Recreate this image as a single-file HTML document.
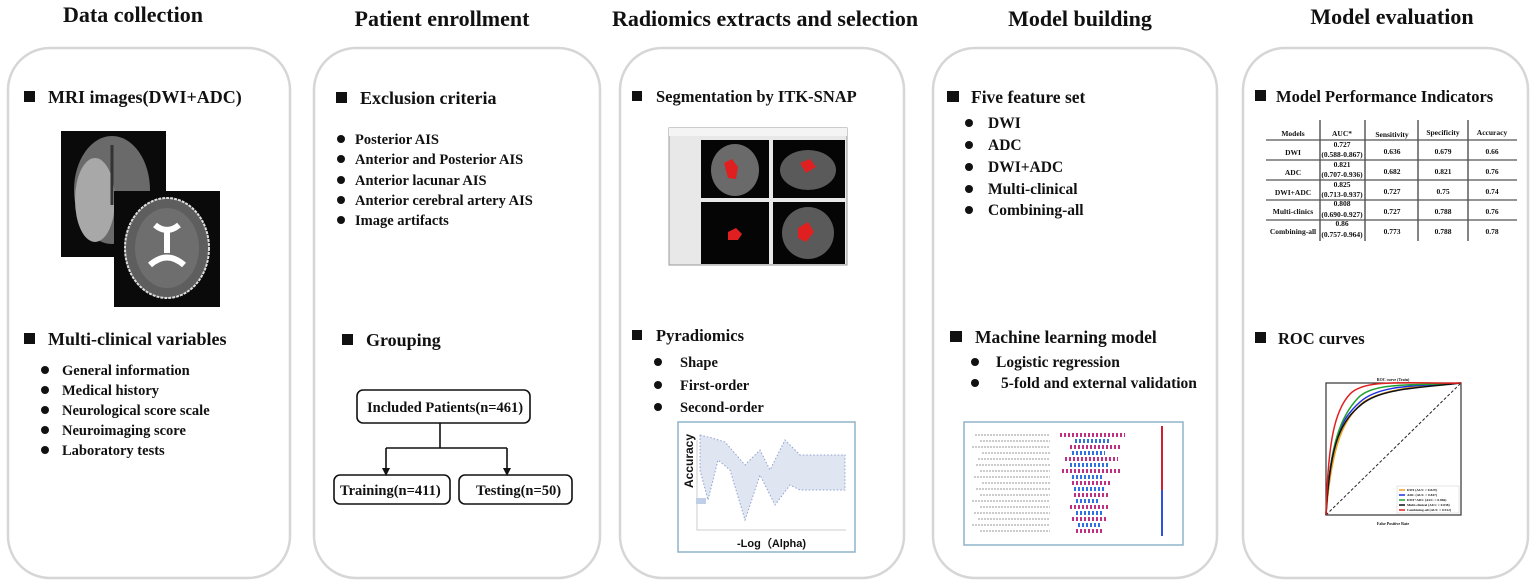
<!DOCTYPE html>
<html><head><meta charset="utf-8"><style>
html,body{margin:0;padding:0;background:#fff;}
svg{display:block;}
text{font-family:"Liberation Serif",serif;font-weight:bold;fill:#111;}
</style></head><body>
<svg width="1535" height="586" viewBox="0 0 1535 586" xmlns="http://www.w3.org/2000/svg">
<!-- titles -->
<g font-size="22" text-anchor="middle">
<text x="133" y="22">Data collection</text>
<text x="442" y="26">Patient enrollment</text>
<text x="765" y="26">Radiomics extracts and selection</text>
<text x="1080" y="26">Model building</text>
<text x="1392" y="24">Model evaluation</text>
</g>
<!-- panels -->
<g fill="#fff" stroke="#d6d6d6" stroke-width="2.5">
<rect x="8" y="48" width="282" height="530" rx="42"/>
<rect x="314" y="48" width="286" height="530" rx="42"/>
<rect x="620" y="48" width="284" height="530" rx="42"/>
<rect x="933" y="48" width="284" height="530" rx="42"/>
<rect x="1243" y="48" width="285" height="530" rx="42"/>
</g>
<!-- Panel 1 -->
<g font-size="18">
<rect x="24" y="91" width="11" height="11" fill="#111"/>
<text x="48" y="103">MRI images(DWI+ADC)</text>
<rect x="24" y="333" width="11" height="11" fill="#111"/>
<text x="48" y="345">Multi-clinical  variables</text>
</g>
<rect x="61" y="131" width="105" height="126" fill="#0a0a0a"/>
<ellipse cx="112" cy="190" rx="38" ry="54" fill="#6a6a6a"/>
<ellipse cx="95" cy="200" rx="20" ry="42" fill="#a8a8a8"/>
<path d="M112 145 v60" stroke="#333" stroke-width="3"/>
<rect x="114" y="191" width="106" height="116" fill="#0a0a0a"/>
<ellipse cx="167" cy="248" rx="42" ry="50" fill="#5e5e5e" stroke="#ddd" stroke-width="2" stroke-dasharray="3 1"/>
<ellipse cx="167" cy="248" rx="32" ry="40" fill="#6e6e6e"/>
<path d="M155 225 q12 10 24 0 M167 228 v25 M150 265 q17 -15 34 0" stroke="#fff" stroke-width="6" fill="none"/>
<g font-size="14.5">
<g fill="#111"><circle cx="45" cy="370" r="4"/><circle cx="45" cy="390" r="4"/><circle cx="45" cy="410" r="4"/><circle cx="45" cy="430" r="4"/><circle cx="45" cy="450" r="4"/></g>
<text x="62" y="375">General information</text>
<text x="62" y="395">Medical history</text>
<text x="62" y="415">Neurological score scale</text>
<text x="62" y="435">Neuroimaging score</text>
<text x="62" y="455">Laboratory tests</text>
</g>
<!-- Panel 2 -->
<g font-size="18">
<rect x="336" y="92" width="11" height="11" fill="#111"/>
<text x="360" y="104">Exclusion criteria</text>
<rect x="342" y="334" width="11" height="11" fill="#111"/>
<text x="366" y="346">Grouping</text>
</g>
<g font-size="14.5">
<g fill="#111"><circle cx="341" cy="139" r="4"/><circle cx="341" cy="159" r="4"/><circle cx="341" cy="180" r="4"/><circle cx="341" cy="200" r="4"/><circle cx="341" cy="220" r="4"/></g>
<text x="355" y="144">Posterior AIS</text>
<text x="355" y="164">Anterior and Posterior AIS</text>
<text x="355" y="185">Anterior lacunar AIS</text>
<text x="355" y="205">Anterior cerebral artery AIS</text>
<text x="355" y="225">Image artifacts</text>
</g>
<g fill="none" stroke="#111" stroke-width="1.6">
<rect x="357" y="390" width="173" height="33" rx="6"/>
<rect x="334" y="475" width="116" height="29" rx="6"/>
<rect x="459" y="475" width="113" height="29" rx="6"/>
<path d="M440 423 V448 M386 448 H507 M386 448 V470 M507 448 V470"/>
</g>
<path d="M382 468 L390 468 L386 476Z M503 468 L511 468 L507 476Z" fill="#111"/>
<g font-size="14.5">
<text x="367" y="412">Included Patients(n=461)</text>
<text x="340" y="495">Training(n=411)</text>
<text x="476" y="495">Testing(n=50)</text>
</g>
<!-- Panel 3 -->
<g font-size="16.5">
<rect x="632" y="91" width="10" height="10" fill="#111"/>
<text x="656" y="102">Segmentation by ITK-SNAP</text>
<rect x="632" y="330" width="10" height="10" fill="#111"/>
<text x="656" y="341">Pyradiomics</text>
</g>
<g font-size="14.5">
<g fill="#111"><circle cx="658" cy="362" r="4"/><circle cx="658" cy="385" r="4"/><circle cx="658" cy="407" r="4"/></g>
<text x="680" y="367">Shape</text>
<text x="680" y="390">First-order</text>
<text x="680" y="412">Second-order</text>
</g>
<rect x="669" y="128" width="178" height="137" fill="#e8e8e8" stroke="#999"/>
<rect x="669" y="128" width="178" height="8" fill="#f4f4f4"/>
<rect x="701" y="140" width="68" height="58" fill="#050505"/>
<rect x="773" y="140" width="72" height="58" fill="#050505"/>
<rect x="701" y="202" width="68" height="62" fill="#050505"/>
<rect x="773" y="202" width="72" height="62" fill="#050505"/>
<ellipse cx="735" cy="170" rx="24" ry="26" fill="#6a6a6a"/>
<ellipse cx="808" cy="170" rx="28" ry="20" fill="#5a5a5a"/>
<ellipse cx="808" cy="233" rx="26" ry="26" fill="#5a5a5a"/>
<path d="M724 163 l8 -4 l6 8 l-2 12 l-8 -1z" fill="#e02020"/>
<path d="M800 163 l10 -4 l6 8 l-10 6z" fill="#e02020"/>
<path d="M798 228 l10 -6 l6 10 l-8 10 l-8 -4z" fill="#e02020"/>
<path d="M728 232 l8 -4 l6 6 l-4 6 l-10 0z" fill="#e02020"/>
<rect x="678" y="422" width="177" height="130" fill="#fff" stroke="#8fb3c9" stroke-width="1.5"/>
<path d="M697 440 V530 H846" stroke="#ccc" fill="none"/>
<path d="M700 435 V470 L708 500 L718 460 L730 470 L745 520 L760 475 L775 505 L790 485 L800 490 H845 V455 H800 L785 440 L770 470 L760 450 L745 465 L725 442 L712 438Z" fill="#dfe6f2" stroke="#8fa0d0" stroke-dasharray="1.5 2"/>
<rect x="696" y="498" width="10" height="6" fill="#c0cfe8"/>
<text x="693" y="488" font-size="12" transform="rotate(-90 693 488)" style="font-family:'Liberation Sans',sans-serif">Accuracy</text>
<text x="737" y="547" font-size="11" style="font-family:'Liberation Sans',sans-serif">-Log（Alpha)</text>
<!-- Panel 4 -->
<g font-size="17.5">
<rect x="947" y="91" width="12" height="11" fill="#111"/>
<text x="971" y="103">Five feature set</text>
<rect x="950" y="331" width="12" height="11" fill="#111"/>
<text x="975" y="343">Machine learning  model</text>
</g>
<g font-size="15.5">
<g fill="#111"><circle cx="969" cy="123" r="4"/><circle cx="969" cy="145" r="4"/><circle cx="969" cy="167" r="4"/><circle cx="969" cy="189" r="4"/><circle cx="969" cy="210" r="4"/><circle cx="975" cy="362" r="4"/><circle cx="975" cy="383" r="4"/></g>
<text x="988" y="128">DWI</text>
<text x="988" y="150">ADC</text>
<text x="988" y="172">DWI+ADC</text>
<text x="988" y="194">Multi-clinical</text>
<text x="988" y="215">Combining-all</text>
<text x="996" y="367">Logistic regression</text>
<text x="1001" y="388">5-fold and external validation</text>
</g>
<rect x="964" y="422" width="219" height="123" fill="#fff" stroke="#8fb3c9" stroke-width="1.5"/>
<g stroke="#999" stroke-width="1">
<path d="M975 435 H1050 M980 441 H1050 M972 447 H1050 M982 453 H1050 M978 459 H1050 M976 465 H1050 M980 471 H1050 M974 477 H1050 M982 483 H1050 M976 489 H1050 M980 495 H1050 M972 501 H1050 M980 507 H1050 M974 513 H1050 M978 519 H1050 M972 525 H1050 M980 531 H1050" stroke-dasharray="2 1"/>
</g>
<g stroke-width="4" stroke-dasharray="2 2">
<path d="M1060 435 H1125 M1070 447 H1120 M1065 459 H1118 M1062 471 H1122 M1072 483 H1112 M1074 495 H1110 M1070 507 H1108 M1072 519 H1106 M1076 531 H1104" stroke="#c03080"/>
<path d="M1075 441 H1110 M1072 453 H1105 M1070 465 H1108 M1072 477 H1104 M1074 489 H1104 M1076 501 H1100 M1076 513 H1102 M1078 525 H1100" stroke="#3070e0"/>
</g>
<rect x="1161" y="426" width="2" height="110" fill="#d02030"/>
<rect x="1161" y="490" width="2" height="46" fill="#3050e0"/>
<!-- Panel 5 -->
<g font-size="16.5">
<rect x="1255" y="90" width="11" height="11" fill="#111"/>
<text x="1276" y="102">Model Performance Indicators</text>
<rect x="1255" y="332" width="11" height="11" fill="#111"/>
<text x="1278" y="344">ROC curves</text>
</g>
<g stroke="#333" stroke-width="1.2">
<path d="M1320 120 V241 M1365 120 V241 M1418 120 V241 M1468 120 V241"/>
<path d="M1266 140 H1517 M1266 160 H1517 M1266 180 H1517 M1266 200 H1517 M1266 220 H1517" stroke="#555"/>
</g>
<g font-size="7.5" text-anchor="middle">
<text x="1293" y="136">Models</text><text x="1342" y="136">AUC*</text><text x="1392" y="137">Sensitivity</text><text x="1443" y="135">Specificity</text><text x="1492" y="135">Accuracy</text>
<text x="1293" y="155">DWI</text><text x="1342" y="147">0.727</text><text x="1342" y="157">(0.588-0.867)</text><text x="1392" y="154">0.636</text><text x="1443" y="154">0.679</text><text x="1492" y="154">0.66</text>
<text x="1293" y="175">ADC</text><text x="1342" y="167">0.821</text><text x="1342" y="177">(0.707-0.936)</text><text x="1392" y="174">0.682</text><text x="1443" y="174">0.821</text><text x="1492" y="174">0.76</text>
<text x="1293" y="195">DWI+ADC</text><text x="1342" y="187">0.825</text><text x="1342" y="197">(0.713-0.937)</text><text x="1392" y="194">0.727</text><text x="1443" y="194">0.75</text><text x="1492" y="194">0.74</text>
<text x="1293" y="214">Multi-clinics</text><text x="1342" y="206">0.808</text><text x="1342" y="217">(0.690-0.927)</text><text x="1392" y="214">0.727</text><text x="1443" y="214">0.788</text><text x="1492" y="214">0.76</text>
<text x="1293" y="234">Combining-all</text><text x="1342" y="226">0.86</text><text x="1342" y="237">(0.757-0.964)</text><text x="1392" y="234">0.773</text><text x="1443" y="234">0.788</text><text x="1492" y="234">0.78</text>
</g>
<rect x="1326" y="383" width="135" height="132" fill="#fff" stroke="#333" stroke-width="1.2"/>
<path d="M1326 515 L1461 383" stroke="#222" stroke-dasharray="3 2" fill="none"/>
<g fill="none" stroke-width="1.5">
<path d="M1326 515 C1332 440 1345 420 1360 405 S1420 385 1461 383" stroke="#f0a020"/>
<path d="M1326 515 C1330 440 1340 420 1360 402 S1420 386 1461 383" stroke="#2030e0"/>
<path d="M1326 515 C1330 440 1342 415 1358 398 S1420 386 1461 383" stroke="#20a030"/>
<path d="M1326 515 C1330 440 1342 420 1362 404 S1420 388 1461 383" stroke="#111"/>
<path d="M1326 515 C1328 440 1335 410 1350 394 S1410 384 1461 383" stroke="#e02020"/>
</g>
<rect x="1397" y="486" width="62" height="27" fill="#fff" stroke="#ccc" stroke-width="0.5"/>
<g stroke-width="1.5"><path d="M1399 490 h6" stroke="#f0a020"/><path d="M1399 495 h6" stroke="#2030e0"/><path d="M1399 500 h6" stroke="#20a030"/><path d="M1399 505 h6" stroke="#111"/><path d="M1399 510 h6" stroke="#e02020"/></g>
<g font-size="3.5" style="font-weight:normal"><text x="1407" y="491">DWI (AUC = 0.829)</text><text x="1407" y="496">ADC (AUC = 0.847)</text><text x="1407" y="501">DWI+ADC (AUC = 0.866)</text><text x="1407" y="506">Multi-clinical (AUC = 0.838)</text><text x="1407" y="511">Combining-all (AUC = 0.912)</text></g>
<text x="1393" y="381" font-size="4" text-anchor="middle">ROC curve (Train)</text>
<text x="1393" y="525" font-size="4" text-anchor="middle">False Positive Rate</text>
</svg>
</body></html>
